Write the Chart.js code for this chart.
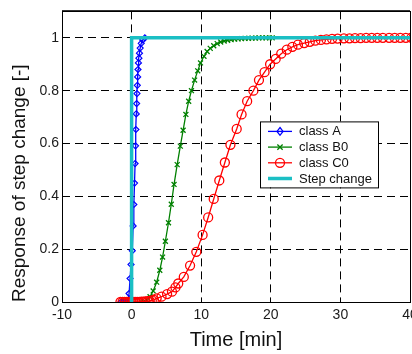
<!DOCTYPE html>
<html><head><meta charset="utf-8">
<script src="https://cdn.jsdelivr.net/npm/chart.js@4/dist/chart.umd.min.js"></script>
<style>html,body{margin:0;padding:0;background:#fff;overflow:hidden}
#wrap{position:relative;width:424px;height:354px}</style></head>
<body><div id="wrap"><canvas id="c"></canvas></div>
<script>
const timeA = [-1.5,-1.2,-0.9,-0.6,-0.36,-0.22,-0.08,0.1,0.22,0.32,0.42,0.5,0.56,0.62,0.67,0.72,0.77,0.82,0.87,0.92,0.98,1.05,1.13,1.23,1.38,1.6,1.9];
const valA  = [0,0,0,0,0.032,0.089,0.142,0.194,0.288,0.369,0.45,0.524,0.591,0.653,0.712,0.751,0.789,0.82,0.852,0.88,0.905,0.923,0.942,0.961,0.979,0.992,1.0];

const timeB0 = [1.4,1.8,2.2,2.65,3.1,3.6,4.05,4.45,4.85,5.3,5.7,6.1,6.55,7.0,7.4,7.8,8.2,8.6,9.05,9.5,9.9,10.4,10.85,11.3,11.8,12.3,12.8,13.3,13.8,14.3,14.8,15.3,15.8,16.3,16.8,17.3,17.8,18.3,18.8,19.3,19.8,20.2];
const valB0  = [0,0.002,0.007,0.02,0.042,0.075,0.12,0.17,0.23,0.30,0.37,0.445,0.52,0.59,0.65,0.71,0.76,0.80,0.84,0.875,0.905,0.93,0.948,0.96,0.97,0.978,0.984,0.988,0.991,0.993,0.995,0.996,0.997,0.998,0.998,0.999,0.999,1,1,1,1,1];

const timeC0 = [-1.6,-1.3,-1.0,-0.7,-0.4,-0.1,0.2,0.5,0.8,1.1,1.4,1.7,2.0,2.3,2.6,2.9,3.2,3.6,4.3,5.1,5.8,6.3,6.7,7.5,8.4,9.3,10.2,11.0,11.8,12.6,13.4,14.2,15.1,15.8,16.6,17.5,18.3,19.1,19.9,20.7,21.5,22.3,23.1,23.9,24.8,25.6,26.4,27.2,28.0,28.8,29.6,30.5,31.3,32.1,32.9,33.7,34.5,35.3,36.1,37.0,37.8,38.6,39.4,40.2];
const valC0  = [0,0,0,0,0,0,0,0,0,0,0.001,0.001,0.002,0.003,0.004,0.006,0.008,0.014,0.02,0.03,0.039,0.055,0.07,0.095,0.138,0.19,0.254,0.32,0.39,0.46,0.528,0.595,0.655,0.71,0.76,0.80,0.84,0.87,0.90,0.92,0.94,0.955,0.966,0.974,0.98,0.985,0.989,0.992,0.994,0.996,0.997,0.998,0.998,0.999,0.999,1,1,1,1,1,1,1,1,1];

const stepTime = [0,0,40];
const stepVal  = [0,1,1];

const xTicks = [-10,0,10,20,30,40];
const yTicks = [0,0.2,0.4,0.6,0.8,1];
const seriesLabels = ['class A','class B0','class C0','Step change'];

function pts(t,v){return t.map((x,i)=>({x:x,y:v[i]}));}

function drawMarker(ctx, style, x, y, r){
  ctx.beginPath();
  if(style==='rectRot'){ctx.moveTo(x,y-r*1.3);ctx.lineTo(x+r,y);ctx.lineTo(x,y+r*1.3);ctx.lineTo(x-r,y);ctx.closePath();}
  else if(style==='crossRot'){ctx.moveTo(x-r*0.75,y-r*0.75);ctx.lineTo(x+r*0.75,y+r*0.75);ctx.moveTo(x+r*0.75,y-r*0.75);ctx.lineTo(x-r*0.75,y+r*0.75);}
  else if(style==='circle'){ctx.arc(x,y,r,0,Math.PI*2);}
  ctx.stroke();
}

const framePlugin = {
  id:'frame',
  beforeDatasetsDraw(chart){
    const a=chart.chartArea, ctx=chart.ctx;
    ctx.save();ctx.strokeStyle='#000';ctx.lineWidth=1;
    ctx.strokeRect(Math.round(a.left)+0.5,Math.round(a.top)+0.5,Math.round(a.right-a.left),Math.round(a.bottom-a.top));
    ctx.strokeStyle='#333';ctx.beginPath();ctx.moveTo(a.left,Math.round(a.top)-0.5);ctx.lineTo(a.right,Math.round(a.top)-0.5);ctx.stroke();
    ctx.restore();
  }
};

const legendPlugin = {
  id:'boxLegend',
  afterDatasetsDraw(chart){
    const a=chart.chartArea, ctx=chart.ctx;
    const L=a.left+198, T=a.top+110, W=118, H=66;
    ctx.save();
    ctx.fillStyle='#fff';ctx.fillRect(L,T,W,H);
    ctx.strokeStyle='#000';ctx.lineWidth=1;ctx.strokeRect(L+0.5,T+0.5,W,H);
    const ds=chart.data.datasets;
    const order=[1,2,3,0];
    ctx.font='13px "Liberation Sans", Arial, sans-serif';
    ctx.textBaseline='middle';ctx.textAlign='left';
    order.forEach((di,i)=>{
      const d=ds[di];
      const y=T+10+i*15.7;
      ctx.strokeStyle=d.borderColor;ctx.lineWidth=d.borderWidth;
      ctx.beginPath();ctx.moveTo(L+8,y);ctx.lineTo(L+32,y);ctx.stroke();
      if(d.pointRadius>0){ctx.lineWidth=1.3;drawMarker(ctx,d.pointStyle,L+20,y,d.pointRadius);}
      ctx.fillStyle='#111';
      ctx.fillText(d.label,L+39,y+0.5);
    });
    ctx.restore();
  }
};

new Chart(document.getElementById('c'),{
  type:'line',
  data:{datasets:[
    {label:seriesLabels[3],data:pts(stepTime,stepVal),borderColor:'#1BBFC4',borderWidth:3.5,pointRadius:0,order:0,tension:0},
    {label:seriesLabels[0],data:pts(timeA,valA),borderColor:'#0000FF',borderWidth:1.3,pointStyle:'rectRot',pointRadius:3,pointBorderWidth:1.2,pointBackgroundColor:'rgba(0,0,0,0)',order:3,tension:0},
    {label:seriesLabels[1],data:pts(timeB0,valB0),borderColor:'#008000',borderWidth:1.3,pointStyle:'crossRot',pointRadius:3.5,pointBorderWidth:1.3,pointBackgroundColor:'rgba(0,0,0,0)',order:2,tension:0},
    {label:seriesLabels[2],data:pts(timeC0,valC0),borderColor:'#FF0000',borderWidth:1.3,pointStyle:'circle',pointRadius:4.5,pointBorderWidth:1.3,pointBackgroundColor:'rgba(0,0,0,0)',order:1,tension:0}
  ]},
  options:{
    responsive:true,maintainAspectRatio:false,animation:false,
    layout:{padding:{top:7,right:14,bottom:0,left:0}},
    plugins:{legend:{display:false},tooltip:{enabled:false}},
    scales:{
      x:{type:'linear',min:-10,max:40,
        afterBuildTicks(s){s.ticks=xTicks.map(v=>({value:v}));},
        afterFit(s){s.height=52;},
        ticks:{font:{family:'"Liberation Sans", Arial, sans-serif',size:14},color:'#1a1a1a',padding:5,maxRotation:0,autoSkip:false,callback:(v)=>String(v)},
        grid:{drawTicks:false,color:(c)=>(c.tick&&(c.tick.value===-10||c.tick.value===40))?'rgba(0,0,0,0)':'#000',lineWidth:1},
        border:{display:false,dash:[8,5]},
        title:{display:true,text:'Time [min]',font:{family:'"Liberation Sans", Arial, sans-serif',size:20},color:'#111',padding:{top:0,bottom:2}}
      },
      y:{type:'linear',min:0,max:1.1,
        afterBuildTicks(s){s.ticks=yTicks.map(v=>({value:v}));},
        afterFit(s){s.width=62;},
        ticks:{font:{family:'"Liberation Sans", Arial, sans-serif',size:14},color:'#1a1a1a',padding:3,callback:(v)=>String(Math.round(v*10)/10)},
        grid:{drawTicks:false,color:(c)=>(c.tick&&c.tick.value===0)?'rgba(0,0,0,0)':'#000',lineWidth:1},
        border:{display:false,dash:[8,5]},
        title:{display:true,text:'Response of step change [-]',align:'start',font:{family:'"Liberation Sans", Arial, sans-serif',size:19},color:'#111',padding:{top:8,bottom:0}}
      }
    }
  },
  plugins:[framePlugin,legendPlugin]
});
</script></body></html>
